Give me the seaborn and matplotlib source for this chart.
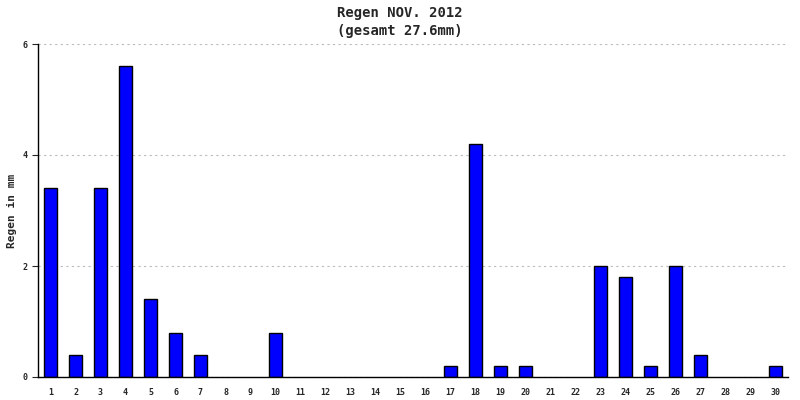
import numpy as np
import pandas as pd
import seaborn as sns
import matplotlib.pyplot as plt
from matplotlib.ticker import FixedLocator

days = [str(d) for d in range(1, 31)]
rain_mm = [3.4, 0.4, 3.4, 5.6, 1.4, 0.8, 0.4, 0.0, 0.0, 0.8,
           0.0, 0.0, 0.0, 0.0, 0.0, 0.0, 0.2, 4.2, 0.2, 0.2,
           0.0, 0.0, 2.0, 1.8, 0.2, 2.0, 0.4, 0.0, 0.0, 0.2]
y_ticks = [0, 2, 4, 6]

sns.set_style("white")
plt.rcParams['font.family'] = ['DejaVu Sans Mono', 'DejaVu Sans']
plt.rcParams['font.weight'] = 'bold'

df = pd.DataFrame({"day": days, "rain": rain_mm})

fig = plt.figure(figsize=(8, 4), dpi=100)
ax = fig.add_axes([38 / 800, 23 / 400, 750 / 800, 333 / 400])
sns.barplot(data=df, x="day", y="rain", color="#0000ff", edgecolor="black",
            linewidth=1, width=0.5, saturation=1, ax=ax)
# no outline for empty days
for p in ax.patches:
    if p.get_height() == 0:
        p.set_linewidth(0)

ax.set_xlim(-0.5, len(days) - 0.5)
ax.set_ylim(0, 6)
ax.set_yticks(y_ticks)
ax.yaxis.grid(True, linestyle=(0, (2, 3)), color="#bbbbbb", linewidth=0.8)
ax.set_axisbelow(True)
ax.xaxis.set_minor_locator(FixedLocator(np.arange(-0.5, len(days), 1)))
ax.tick_params(axis="x", which="major", length=0, labelsize=6, pad=8)
ax.tick_params(axis="x", which="minor", length=5, direction="out", color="black")
ax.tick_params(axis="y", length=4, direction="out", labelsize=6, left=True)
for s in ["top", "right"]:
    ax.spines[s].set_visible(False)
for s in ["left", "bottom"]:
    ax.spines[s].set_color("black")
    ax.spines[s].set_linewidth(1)

ax.set_xlabel("")
ax.set_ylabel("Regen in mm", fontsize=8, fontweight="bold")
fig.text(0.5, 1 - 13 / 400, "Regen NOV. 2012", ha="center", va="center",
         fontsize=10, fontweight="bold")
fig.text(0.5, 1 - 31 / 400, "(gesamt 27.6mm)", ha="center", va="center",
         fontsize=10, fontweight="bold")

fig.savefig("out.png", dpi=100)
